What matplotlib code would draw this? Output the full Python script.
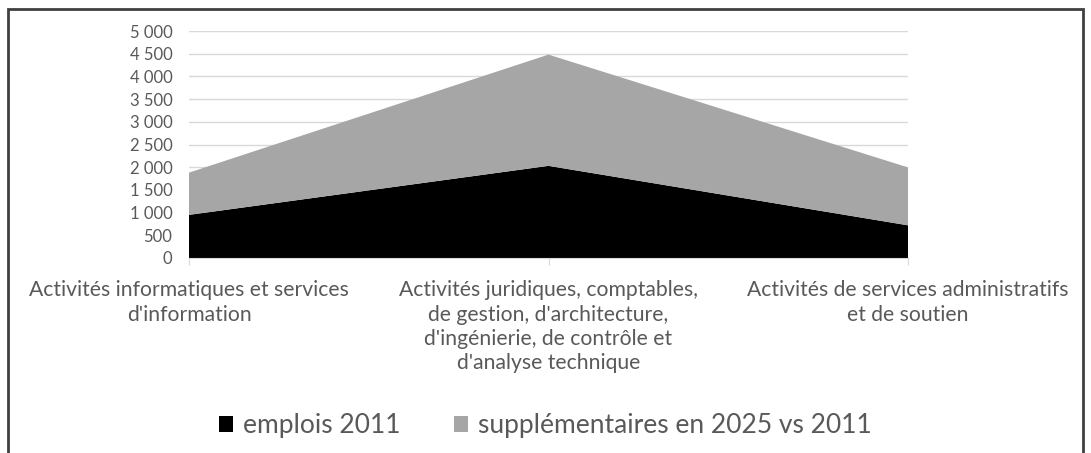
import matplotlib.pyplot as plt
from matplotlib.patches import Rectangle
from matplotlib.ticker import FuncFormatter

categories = [
    "Activités informatiques et services\nd'information",
    "Activités juridiques, comptables,\nde gestion, d'architecture,\nd'ingénierie, de contrôle et\nd'analyse technique",
    "Activités de services administratifs\net de soutien",
]
emplois_2011 = [950, 2030, 720]
supplementaires = [930, 2450, 1275]
series_names = ["emplois 2011", "supplémentaires en 2025 vs 2011"]

plt.rcParams['font.family'] = ['Lato', 'DejaVu Sans']
text_color = '#595959'

fig = plt.figure(figsize=(10.91, 4.53), dpi=100)
ax = fig.add_axes([189 / 1091, 1 - 258 / 453, (908 - 189) / 1091, (258 - 31) / 453])

x = list(range(len(categories)))
ax.stackplot(x, emplois_2011, supplementaires, colors=['#000000', '#a6a6a6'],
             labels=series_names, zorder=2)

ax.set_xlim(0, len(categories) - 1)
ax.set_ylim(0, 5000)
ax.set_yticks(range(0, 5001, 500))
ax.yaxis.set_major_formatter(FuncFormatter(lambda v, p: f"{int(v):,}".replace(",", " ")))
ax.grid(axis='y', color='#d9d9d9', linewidth=1, zorder=0)
ax.set_axisbelow(True)

for s in ['top', 'right', 'left']:
    ax.spines[s].set_visible(False)
ax.spines['bottom'].set_color('#d9d9d9')
ax.tick_params(axis='y', length=0, labelsize=12, labelcolor=text_color, pad=12)
ax.set_xticks(x)
ax.set_xticklabels(categories, fontsize=15.2, color=text_color, linespacing=1.27)
ax.tick_params(axis='x', length=5, color='#d9d9d9', pad=11)

fig.legend(loc='center', bbox_to_anchor=(0.5, 27 / 453), ncol=2, frameon=False,
           fontsize=19, labelcolor=text_color, handlelength=0.55, handleheight=0.55,
           handletextpad=0.38, columnspacing=2.0, borderpad=0)

fig.patches.append(Rectangle((8 / 1091, -0.1), (1083 - 8) / 1091, 1.1 - 9 / 453,
                             transform=fig.transFigure, fill=False,
                             edgecolor='#404040', linewidth=2))

fig.savefig('out.png', dpi=100)
